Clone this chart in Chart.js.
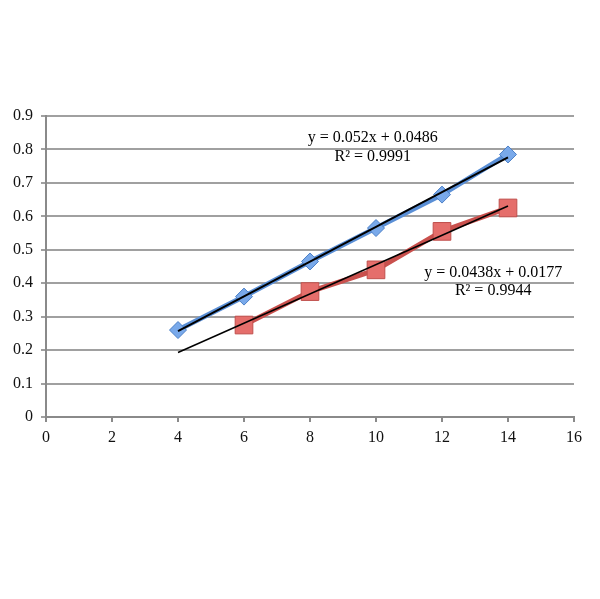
<!DOCTYPE html>
<html>
<head>
<meta charset="utf-8">
<script src="https://cdn.jsdelivr.net/npm/chart.js@4"></script>
<style>
  html, body { margin: 0; padding: 0; background: #fff; }
  #wrap { position: relative; width: 600px; height: 599px; }
</style>
</head>
<body>
<div id="wrap"><canvas id="chart"></canvas></div>
<script>
// data
const xValues = [4, 6, 8, 10, 12, 14];
const blueValues = [0.26, 0.36, 0.465, 0.565, 0.665, 0.785];
const redX = [6, 8, 10, 12, 14];
const redValues = [0.275, 0.375, 0.44, 0.555, 0.625];

// trendlines (from the equations shown)
const trendX = [4, 14];
const blueSlope = 0.052, blueIntercept = 0.0486;
const redSlope = 0.0438, redIntercept = 0.0177;

const xTicks = [0, 2, 4, 6, 8, 10, 12, 14, 16];
const yTicks = [0, 0.1, 0.2, 0.3, 0.4, 0.5, 0.6, 0.7, 0.8, 0.9];

const blueLabel = ['y = 0.052x + 0.0486', 'R\u00b2 = 0.9991'];
const redLabel = ['y = 0.0438x + 0.0177', 'R\u00b2 = 0.9944'];

const serif = '"Liberation Serif", "DejaVu Serif", serif';

// equation labels, anchored to data coords
const eqPlugin = {
    id: 'eqLabels',
    afterDatasetsDraw(chart) {
        const ctx = chart.ctx;
        const xs = chart.scales.x, ys = chart.scales.y;
        ctx.save();
        ctx.fillStyle = '#000';
        ctx.font = '16px ' + serif;
        ctx.textBaseline = 'middle';
        ctx.textAlign = 'center';
        let px = xs.getPixelForValue(9.9), py = ys.getPixelForValue(0.835);
        ctx.fillText(blueLabel[0], px, py);
        ctx.fillText(blueLabel[1], px, py + 19);
        px = xs.getPixelForValue(13.55); py = ys.getPixelForValue(0.43);
        ctx.fillText(redLabel[0], px, py);
        ctx.fillText(redLabel[1], px, py + 18);
        ctx.restore();
    }
};

new Chart(document.getElementById('chart'), {
    type: 'scatter',
    data: {
        datasets: [
            {
                label: 'blue',
                data: xValues.map((x, i) => ({ x: x, y: blueValues[i] })),
                showLine: true,
                borderColor: '#5a8fd6',
                borderWidth: 5,
                pointStyle: 'rectRot',
                pointRadius: 8.5,
                pointBackgroundColor: '#79a9ea',
                pointBorderColor: '#4b7fc6',
                pointBorderWidth: 1,
                order: 2
            },
            {
                label: 'red',
                data: redX.map((x, i) => ({ x: x, y: redValues[i] })),
                showLine: true,
                borderColor: '#c9504d',
                borderWidth: 5,
                pointStyle: 'rect',
                pointRadius: 12.5,
                pointBackgroundColor: '#e56e6b',
                pointBorderColor: '#c0504d',
                pointBorderWidth: 1,
                order: 3
            },
            {
                label: 'blue trend',
                data: trendX.map(x => ({ x: x, y: blueSlope * x + blueIntercept })),
                showLine: true,
                borderColor: '#000',
                borderWidth: 2,
                pointRadius: 0,
                order: 0
            },
            {
                label: 'red trend',
                data: trendX.map(x => ({ x: x, y: redSlope * x + redIntercept })),
                showLine: true,
                borderColor: '#000',
                borderWidth: 1.5,
                pointRadius: 0,
                order: 1
            }
        ]
    },
    options: {
        responsive: true,
        maintainAspectRatio: false,
        animation: false,
        layout: { padding: { left: 0, top: 116, right: 26, bottom: 152 } },
        plugins: {
            legend: { display: false },
            tooltip: { enabled: false }
        },
        scales: {
            x: {
                type: 'linear',
                min: 0,
                max: 16,
                afterBuildTicks: s => { s.ticks = xTicks.map(v => ({ value: v })); },
                afterFit: s => { s.height = 30; },
                border: { color: '#8a8a8a', width: 2 },
                grid: { drawOnChartArea: false, drawTicks: true, tickLength: 5, color: '#8a8a8a', lineWidth: 2 },
                ticks: { color: '#111', font: { family: serif, size: 16 }, padding: 6, maxRotation: 0 }
            },
            y: {
                min: 0,
                max: 0.9,
                afterBuildTicks: s => { s.ticks = yTicks.map(v => ({ value: v })); },
                afterFit: s => { s.width = 46; },
                border: { color: '#8a8a8a', width: 2 },
                grid: { drawTicks: true, tickLength: 5, color: '#a0a0a0', lineWidth: 2 },
                ticks: { color: '#111', font: { family: serif, size: 16 }, padding: 8,
                    callback: v => String(Math.round(v * 10) / 10) }
            }
        }
    },
    plugins: [eqPlugin]
});
</script>
</body>
</html>
